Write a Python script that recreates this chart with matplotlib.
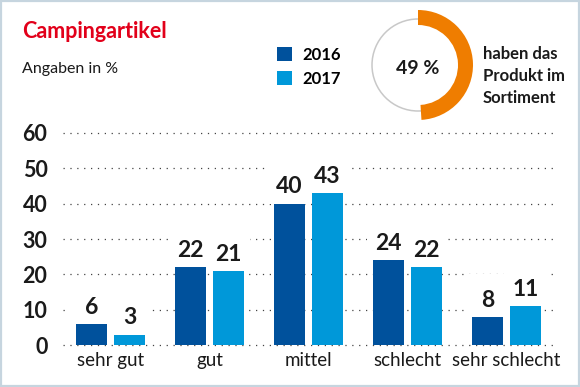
import numpy as np
import matplotlib.pyplot as plt
from matplotlib.patches import Rectangle, Wedge, Circle

categories = ['sehr gut', 'gut', 'mittel', 'schlecht', 'sehr schlecht']
values_2016 = [6, 22, 40, 24, 8]
values_2017 = [3, 21, 43, 22, 11]
years = ['2016', '2017']
y_ticks = [0, 10, 20, 30, 40, 50, 60]
share = 49  # % haben das Produkt im Sortiment

DARK = '#00519c'
LIGHT = '#0098d9'
ORANGE = '#ef7d00'
RED = '#e2001a'
W, H = 580, 387  # figure size in pixels

plt.rcParams['font.family'] = ['Lato', 'DejaVu Sans']

fig = plt.figure(figsize=(W / 100, H / 100), dpi=100)

# overlay in pixel coordinates for frame, donut and header texts
ov = fig.add_axes([0, 0, 1, 1], zorder=0)
ov.set_xlim(0, W)
ov.set_ylim(H, 0)
ov.axis('off')
ov.add_patch(Rectangle((1, 1), W - 2, H - 2, fill=False, ec='#c6d5df', lw=1.6))

# main bar chart
ax = fig.add_axes([62.7 / W, 1 - 345.3 / H, (556 - 62.7) / W, 212.6 / H], zorder=1)
ax.set_facecolor('none')
x = np.arange(len(categories))
bw = 0.313
off = 0.192
b1 = ax.bar(x - off, values_2016, bw, color=DARK, zorder=3)
b2 = ax.bar(x + off, values_2017, bw, color=LIGHT, zorder=3)
ax.set_xlim(-0.483, 4.5)
ax.set_ylim(0, 60)

for t in y_ticks:
    ax.axhline(t, color='#444444', lw=0.9, ls=(0, (1, 4.5)), zorder=1, clip_on=False)

# value labels with white knock-out boxes behind them
for xs, vals in [(x - off, values_2016), (x + off, values_2017)]:
    for xi, v in zip(xs, vals):
        ax.add_patch(Rectangle((xi - 0.22, v), 0.44, 12, facecolor='white',
                               edgecolor='none', zorder=2))
        ax.text(xi, v + 2.9, str(v), ha='center', va='baseline', fontsize=16.5,
                weight='bold', color='#1a1a1a', zorder=4)

for s in ax.spines.values():
    s.set_visible(False)
ax.set_yticks(y_ticks)
ax.set_yticklabels([str(t) for t in y_ticks], fontsize=15.5, weight='bold', color='#1a1a1a')
ax.set_xticks(x)
ax.set_xticklabels(categories, fontsize=13.5, color='#1a1a1a')
ax.tick_params(axis='y', length=0, pad=11)
ax.tick_params(axis='x', length=0, pad=4.5)

# header
fig.text(22 / W, 1 - 32 / H, 'Campingartikel', color=RED, fontsize=15.5,
         weight='bold', va='center', ha='left')
fig.text(22 / W, 1 - 69 / H, 'Angaben in %', color='#1a1a1a', fontsize=11.5,
         va='center', ha='left')

fig.legend(handles=[b1, b2], labels=years, loc='upper left',
           bbox_to_anchor=(277 / W, 1 - 47 / H), frameon=False,
           prop={'size': 12, 'weight': 'bold'}, handlelength=0.9, handleheight=0.9,
           handletextpad=0.65, labelspacing=0.45, borderpad=0, borderaxespad=0)

# donut
cx, cy = 418, 65
ov.add_patch(Circle((cx, cy), 46, fill=False, ec='#c8c8c8', lw=1.1))
ov.add_patch(Wedge((cx, cy), 55, -90, -90 + 360 * share / 100, width=15,
                   facecolor=ORANGE, edgecolor='none'))
ov.text(cx, cy + 3, f'{share} %', ha='center', va='center', fontsize=14,
        weight='bold', color='#1a1a1a')
ov.text(483, 76, 'haben das\nProdukt im\nSortiment', ha='left', va='center',
        fontsize=12, weight='bold', color='#1a1a1a', linespacing=1.45)

fig.savefig('out.png', dpi=100)
